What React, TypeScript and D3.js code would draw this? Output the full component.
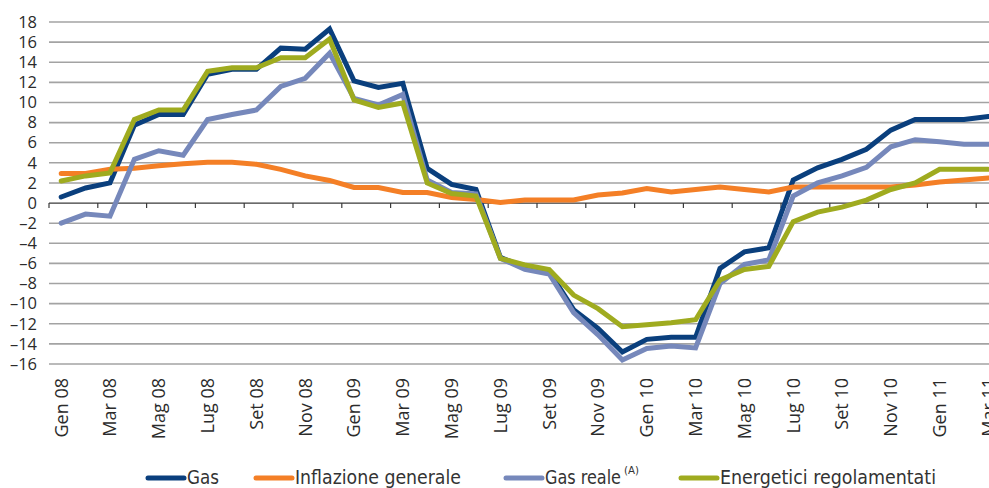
import React from "react";
import * as d3 from "d3";

const categories = [
  "Gen 08", "Feb 08", "Mar 08", "Apr 08", "Mag 08", "Giu 08", "Lug 08", "Ago 08", "Set 08", "Ott 08", "Nov 08", "Dic 08",
  "Gen 09", "Feb 09", "Mar 09", "Apr 09", "Mag 09", "Giu 09", "Lug 09", "Ago 09", "Set 09", "Ott 09", "Nov 09", "Dic 09",
  "Gen 10", "Feb 10", "Mar 10", "Apr 10", "Mag 10", "Giu 10", "Lug 10", "Ago 10", "Set 10", "Ott 10", "Nov 10", "Dic 10",
  "Gen 11", "Feb 11", "Mar 11",
];

const gas = [
  0.6, 1.5, 2.0, 7.75, 8.8, 8.8, 12.8, 13.3, 13.3, 15.4, 15.3, 17.3,
  12.15, 11.5, 11.9, 3.45, 1.85, 1.35, -5.4, -6.4, -6.8, -10.6, -12.45, -14.8,
  -13.55, -13.35, -13.35, -6.5, -4.85, -4.45, 2.3, 3.5, 4.35, 5.35, 7.25, 8.3,
  8.3, 8.3, 8.6,
];
const inflazione = [
  2.95, 2.95, 3.35, 3.45, 3.7, 3.9, 4.05, 4.05, 3.85, 3.35, 2.7, 2.25,
  1.55, 1.55, 1.05, 1.05, 0.55, 0.35, 0.05, 0.3, 0.3, 0.3, 0.8, 1.0,
  1.45, 1.1, 1.35, 1.6, 1.35, 1.1, 1.6, 1.6, 1.6, 1.6, 1.6, 1.8,
  2.1, 2.3, 2.5,
];
const gasReale = [
  -2.0, -1.1, -1.3, 4.35, 5.2, 4.75, 8.3, 8.8, 9.25, 11.6, 12.4, 14.9,
  10.4, 9.75, 10.8, 2.3, 1.05, 0.9, -5.5, -6.6, -7.05, -10.9, -13.1, -15.6,
  -14.45, -14.2, -14.4, -8.0, -6.1, -5.65, 0.7, 2.0, 2.7, 3.55, 5.6, 6.3,
  6.1, 5.85, 5.85,
];
const energetici = [
  2.2, 2.7, 3.0, 8.3, 9.25, 9.25, 13.1, 13.45, 13.45, 14.45, 14.45, 16.3,
  10.25, 9.5, 9.95, 2.0, 0.95, 0.7, -5.5, -6.15, -6.6, -9.15, -10.5, -12.3,
  -12.1, -11.9, -11.6, -7.65, -6.6, -6.3, -1.85, -0.9, -0.4, 0.3, 1.35, 2.0,
  3.35, 3.35, 3.35,
];

const yTicks = [18, 16, 14, 12, 10, 8, 6, 4, 2, 0, -2, -4, -6, -8, -10, -12, -14, -16];

const series = [
  { name: "Gas", values: gas, color: "#0a3f7d" },
  { name: "Inflazione generale", values: inflazione, color: "#f47f26" },
  { name: "Gas reale", values: gasReale, color: "#7688bb" },
  { name: "Energetici regolamentati", values: energetici, color: "#9fab1f" },
];

const W = 989, H = 488;
const left = 49;
const step = 24.4;

export default function App() {
  const x = d3.scaleBand<number>()
    .domain(categories.map((_, i) => i))
    .range([left, left + step * categories.length])
    .padding(0);
  const y = d3.scaleLinear().domain([-16, 18]).range([364, 22]);
  const cx = (i: number) => (x(i) as number) + x.bandwidth() / 2;

  const line = d3.line<number>()
    .x((_, i) => cx(i))
    .y(d => y(d));

  const axisFont = "'Open Sans', 'DejaVu Sans', sans-serif";
  const legendFont = "'DejaVu Sans Condensed', 'DejaVu Sans', sans-serif";

  // legend layout: sample start, text width
  const legendItems = [
    { s: 146, tw: 32 },
    { s: 254, tw: 166 },
    { s: 504, tw: 76 },
    { s: 679, tw: 216 },
  ];

  return (
    <div style={{ position: "absolute", left: 0, top: 0, width: W, height: H, overflow: "hidden", background: "#fff" }}>
      <svg width={W} height={H} style={{ display: "block" }}>
        {/* grid */}
        {yTicks.filter(t => t !== 0).map(t => (
          <line key={t} x1={left} x2={W} y1={y(t)} y2={y(t)} stroke="#a3a3a3" strokeWidth={1.6} />
        ))}
        {yTicks.map(t => (
          <text key={"l" + t} x={37} y={y(t)} dy="0.35em" textAnchor="end"
            fontFamily={axisFont} fontSize={16.5} fill="#2b2b2b">
            {t < 0 ? "\u2013" + Math.abs(t) : String(t)}
          </text>
        ))}
        {/* zero axis */}
        <line x1={left} x2={W} y1={y(0)} y2={y(0)} stroke="#3a3a3a" strokeWidth={1.3} />
        {categories.map((_, i) => i % 2 === 0 ? (
          <line key={"t" + i} x1={x(i) as number} x2={x(i) as number} y1={y(0)} y2={y(0) + 5}
            stroke="#3a3a3a" strokeWidth={1.2} />
        ) : null)}
        {categories.map((c, i) => i % 2 === 0 ? (
          <text key={"c" + i} transform={`translate(${cx(i)},378) rotate(-90)`} textAnchor="end" dy="0.36em"
            fontFamily={axisFont} fontSize={18} fill="#2b2b2b">{c}</text>
        ) : null)}
        {/* series */}
        {series.map(s => (
          <path key={s.name} d={line(s.values) || ""} fill="none" stroke={s.color} strokeWidth={5}
            strokeLinejoin="miter" strokeMiterlimit={2.5} strokeLinecap="round" />
        ))}
        {/* legend */}
        {series.map((s, k) => {
          const it = legendItems[k];
          return (
            <g key={"lg" + k}>
              <line x1={it.s + 2} x2={it.s + 38} y1={478} y2={478} stroke={s.color} strokeWidth={5} strokeLinecap="round" />
              <text x={it.s + 41} y={484} fontFamily={legendFont} fontSize={19} fill="#333"
                textLength={it.tw} lengthAdjust="spacingAndGlyphs">{s.name}</text>
              {k === 2 ? (
                <text x={it.s + 41 + it.tw + 3} y={474} fontFamily={legendFont} fontSize={11} fill="#333"
                  textLength={15} lengthAdjust="spacingAndGlyphs">(A)</text>
              ) : null}
            </g>
          );
        })}
      </svg>
    </div>
  );
}
